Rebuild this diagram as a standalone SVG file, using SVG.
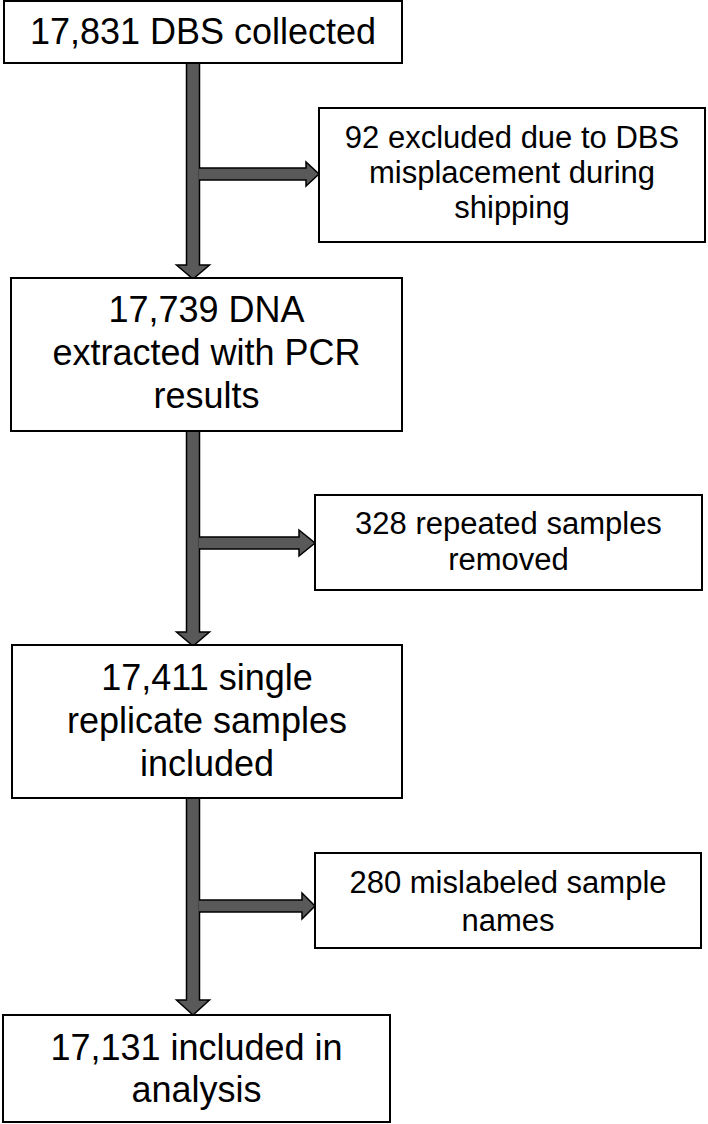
<svg xmlns="http://www.w3.org/2000/svg" width="708" height="1124" viewBox="0 0 708 1124">
<style>
.box{fill:#fff;stroke:#000;stroke-width:2}
.arr{fill:#595959;stroke:#000;stroke-width:1.5;stroke-linejoin:miter}
.tl{font-family:"Liberation Sans",Arial,sans-serif;font-size:36px;fill:#000;text-anchor:middle}
.tr{font-family:"Liberation Sans",Arial,sans-serif;font-size:31px;fill:#000;text-anchor:middle}
</style>
<rect width="708" height="1124" fill="#fff"/>
<g id="connectors">
<path class="arr" d="M186.5,63 H199.5 V265 H209.5 L193,279 L176.5,265 H186.5 Z"/>
<path class="arr" d="M199,168 H306 V162 L319,174 L306,186 V180 H199"/>
<path class="arr" d="M186.5,431 H199.5 V632 H209.5 L193,646 L176.5,632 H186.5 Z"/>
<path class="arr" d="M199,537 H299 V530 L315,543 L299,556 V549 H199"/>
<path class="arr" d="M186.5,798 H199.5 V1000 H209.5 L193,1015 L176.5,1000 H186.5 Z"/>
<path class="arr" d="M199,900 H302 V893 L315,906 L302,919 V912 H199"/>
</g>
<g id="n1">
<rect class="box" x="4" y="1" width="398" height="62"/>
<text class="tl" x="203" y="44">17,831 DBS collected</text>
</g>
<g id="n2">
<rect class="box" x="319" y="108" width="386" height="134"/>
<text class="tr" x="512" y="148">92 excluded due to DBS</text>
<text class="tr" x="512" y="183">misplacement during</text>
<text class="tr" x="512" y="218">shipping</text>
</g>
<g id="n3">
<rect class="box" x="11" y="278" width="391" height="153"/>
<text class="tl" x="206.5" y="322">17,739 DNA</text>
<text class="tl" x="206.5" y="365">extracted with PCR</text>
<text class="tl" x="206.5" y="408">results</text>
</g>
<g id="n4">
<rect class="box" x="315" y="495" width="387" height="95"/>
<text class="tr" x="508.5" y="534">328 repeated samples</text>
<text class="tr" x="508.5" y="570">removed</text>
</g>
<g id="n5">
<rect class="box" x="12" y="645" width="390" height="153"/>
<text class="tl" x="207" y="690">17,411 single</text>
<text class="tl" x="207" y="733">replicate samples</text>
<text class="tl" x="207" y="776">included</text>
</g>
<g id="n6">
<rect class="box" x="315" y="853" width="386" height="95"/>
<text class="tr" x="508" y="893">280 mislabeled sample</text>
<text class="tr" x="508" y="931">names</text>
</g>
<g id="n7">
<rect class="box" x="3" y="1015" width="387" height="107"/>
<text class="tl" x="196.5" y="1060">17,131 included in</text>
<text class="tl" x="196.5" y="1102">analysis</text>
</g>
</svg>
